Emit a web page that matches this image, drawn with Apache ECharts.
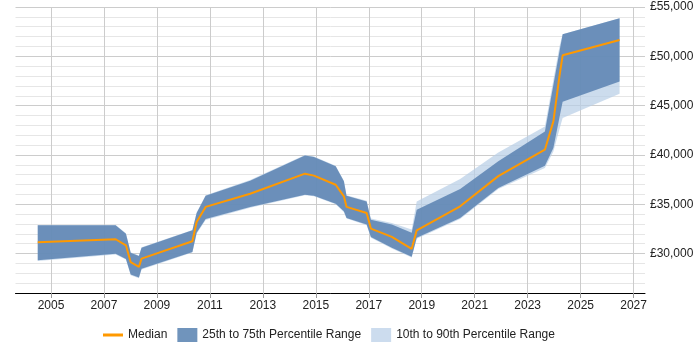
<!DOCTYPE html>
<html>
<head>
<meta charset="utf-8">
<script src="https://cdn.jsdelivr.net/npm/echarts@6/dist/echarts.min.js"></script>
<style>html,body{margin:0;padding:0;background:#fff}#c{width:700px;height:350px}</style>
</head>
<body>
<div id="c"></div>
<script>
const years = [2004.5, 2007.44, 2007.83, 2008.01, 2008.32, 2008.42, 2010.34, 2010.5, 2010.84, 2012.52, 2014.59, 2014.93, 2015.75, 2016.06, 2016.16, 2016.92, 2017.08, 2017.87, 2018.62, 2018.81, 2020.45, 2021.89, 2023.65, 2023.97, 2024.2, 2024.32, 2026.47];
const median = [31150, 31450, 30840, 29120, 28650, 29490, 31250, 33200, 34730, 36070, 38100, 37900, 36980, 35800, 34730, 34120, 32530, 31690, 30480, 32360, 34790, 37850, 40530, 43400, 48000, 50100, 51660];
const p25 = [29320, 29970, 29460, 27880, 27570, 28450, 30170, 32100, 33500, 34730, 35970, 35870, 35060, 34280, 33610, 32940, 31690, 30580, 29670, 31590, 33610, 36650, 38910, 40700, 43800, 45400, 47440];
const p75 = [32860, 32860, 32020, 30070, 29750, 30580, 32360, 34100, 35870, 37390, 39950, 39790, 38840, 37320, 35870, 35290, 33440, 32940, 32100, 34450, 36550, 39350, 42380, 47090, 50500, 52240, 53860];
const p10 = [29250, 29900, 29400, 27800, 27500, 28380, 30100, 32000, 33400, 34650, 35900, 35800, 35000, 34200, 33550, 32880, 31600, 30500, 29600, 31500, 33500, 36550, 38670, 40350, 42600, 43750, 46200];
const p90 = [32900, 32900, 32060, 30120, 29800, 30630, 32400, 34150, 35920, 37450, 40000, 39850, 38900, 37380, 35920, 35350, 33550, 33110, 32430, 35290, 37560, 40250, 42890, 47600, 51000, 52240, 53860];
const xTicks = [2005, 2007, 2009, 2011, 2013, 2015, 2017, 2019, 2021, 2023, 2025, 2027];

const pair = (a) => years.map((y, i) => [y, a[i]]);
const bandData = years.map((y, i) => [y, p10[i], p25[i], p75[i], p90[i]]);

function bandRenderer(loIdx, hiIdx, fill) {
  return function (params, api) {
    if (params.dataIndex !== 0) return null;
    const pts = [];
    for (let i = 0; i < bandData.length; i++) pts.push(api.coord([bandData[i][0], bandData[i][hiIdx]]));
    for (let i = bandData.length - 1; i >= 0; i--) pts.push(api.coord([bandData[i][0], bandData[i][loIdx]]));
    return {type: 'polygon', shape: {points: pts}, style: {fill: fill}};
  };
}

const chart = echarts.init(document.getElementById('c'), null, {renderer: 'canvas'});
const minor = '#e6e6e6', major = '#cccccc';
const font = 'Liberation Sans, Arial, sans-serif';
chart.setOption({
  animation: false,
  grid: {left: 15.5, right: 55, top: 7, bottom: 57},
  xAxis: {
    type: 'value', min: 2003.66, max: 2027.43,
    axisLine: {show: true, onZero: false, lineStyle: {color: '#000', width: 1}},
    axisTick: {show: true, customValues: xTicks, length: 5, lineStyle: {color: '#999'}},
    axisLabel: {customValues: xTicks, color: '#222', fontSize: 12, fontFamily: font, margin: 7, formatter: v => String(v)},
    splitLine: {show: true, lineStyle: {color: major, width: 1}}
  },
  yAxis: {
    type: 'value', position: 'right', min: 26000, max: 55000, interval: 1000,
    axisLine: {show: false}, axisTick: {show: false},
    axisLabel: {color: '#222', fontSize: 12, fontFamily: font, margin: 5,
      formatter: v => (v % 5000 === 0 ? '£' + v.toLocaleString('en-GB') : '')},
    splitLine: {show: true, lineStyle: {color: [minor, minor, minor, minor, major], width: 1}}
  },
  legend: {
    bottom: 3, left: 98, itemGap: 10, itemWidth: 20, itemHeight: 14,
    textStyle: {color: '#222', fontSize: 12, fontFamily: font},
    data: [
      {name: 'Median', icon: 'path://M0,5.5 L20,5.5 L20,8.5 L0,8.5 Z', itemStyle: {color: '#ff9900'}},
      {name: '25th to 75th Percentile Range', icon: 'rect', itemStyle: {color: '#7094bc'}},
      {name: '10th to 90th Percentile Range', icon: 'rect', itemStyle: {color: '#ccdcee'}}
    ]
  },
  series: [
    {name: '10th to 90th Percentile Range', type: 'custom', data: bandData, encode: {x: 0, y: [1, 4]},
      renderItem: bandRenderer(1, 4, 'rgba(184,206,230,0.72)'), itemStyle: {color: '#ccdcee'}, clip: true, z: 1},
    {name: '25th to 75th Percentile Range', type: 'custom', data: bandData, encode: {x: 0, y: [2, 3]},
      renderItem: bandRenderer(2, 3, 'rgba(90,131,178,0.85)'), itemStyle: {color: '#7094bc'}, clip: true, z: 2},
    {name: 'Median', type: 'line', data: pair(median), symbol: 'none', lineStyle: {color: '#ff9900', width: 2}, itemStyle: {color: '#ff9900'}, z: 5}
  ]
});
</script>
</body>
</html>
